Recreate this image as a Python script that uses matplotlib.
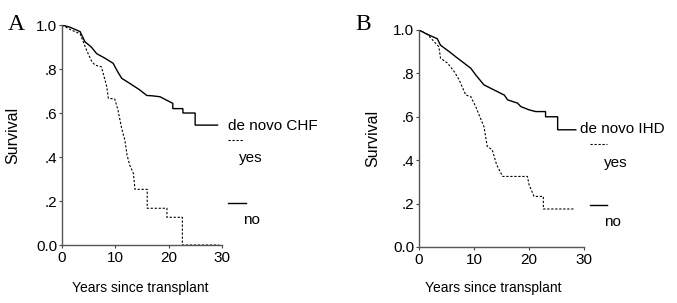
#! /usr/bin/env python
import numpy as np
import matplotlib as mpl
mpl.use("Agg")
import matplotlib.pyplot as plt
from matplotlib.lines import Line2D

plt.rcParams['font.family'] = ['Liberation Sans', 'DejaVu Sans']

#~~~~~~~~ data ~~~~~~~~
# panel A : de novo CHF
a_no_t = [0, 1.5, 3.4, 4.3, 5.5, 6.5, 8.0, 9.6, 10.4, 11.2, 12.7, 14.6, 15.9, 17.0, 18.4,
          19.5, 20.8, 20.8, 22.7, 22.7, 25.0, 25.0, 29.2]
a_no_s = [1.0, 0.99, 0.97, 0.924, 0.9, 0.87, 0.85, 0.826, 0.79, 0.758, 0.735, 0.705, 0.68,
          0.678, 0.674, 0.66, 0.644, 0.62, 0.62, 0.6, 0.6, 0.545, 0.545]
a_yes_t = [0, 1.5, 3.4, 4.6, 5.6, 6.2, 7.4, 8.4, 8.7, 9.9, 10.5, 11.2, 11.8, 12.2, 12.7, 13.4,
           13.7, 16.0, 16.0, 19.7, 19.7, 22.6, 22.6, 29.5]
a_yes_s = [1.0, 0.98, 0.96, 0.886, 0.833, 0.818, 0.81, 0.72, 0.667, 0.664, 0.614, 0.53, 0.477,
           0.41, 0.364, 0.326, 0.253, 0.253, 0.167, 0.167, 0.126, 0.126, 0.0, 0.0]

# panel B : de novo IHD
b_no_t = [0, 1.5, 3.3, 3.9, 5.5, 7.0, 9.4, 10.3, 11.8, 13.6, 15.5, 16.1, 17.9, 18.5, 20.0,
          21.2, 23.0, 23.0, 25.2, 25.2, 28.5]
b_no_s = [1.0, 0.98, 0.96, 0.93, 0.9, 0.87, 0.824, 0.793, 0.747, 0.724, 0.70, 0.678, 0.663,
          0.647, 0.632, 0.624, 0.624, 0.60, 0.60, 0.54, 0.54]
b_yes_t = [0, 1.5, 3.6, 3.9, 5.2, 6.4, 7.3, 8.5, 9.4, 10.3, 10.9, 11.8, 12.4, 13.3, 14.1,
           15.2, 19.7, 20.0, 20.9, 22.6, 22.6, 28.2]
b_yes_s = [1.0, 0.98, 0.923, 0.87, 0.847, 0.808, 0.77, 0.70, 0.693, 0.647, 0.609, 0.555,
           0.463, 0.448, 0.379, 0.325, 0.325, 0.287, 0.233, 0.233, 0.175, 0.175]

x_ticks = [0, 10, 20, 30]
y_ticks = [0.0, 0.2, 0.4, 0.6, 0.8, 1.0]
y_ticklabels = ['0.0', '.2', '.4', '.6', '.8', '1.0']
#~~~~~~~~~~~~~~~~~~~~~~~~~~~~~~~~~~~~~~~~~~~

dots = (0, (2.0, 1.6))

fig = plt.figure(figsize=(6.77, 3.03), dpi=100)
axA = fig.add_axes([0.0916, 0.1914, 0.236, 0.726])
axB = fig.add_axes([0.619, 0.185, 0.2437, 0.716])

panels = [
    (axA, a_no_t, a_no_s, a_yes_t, a_yes_s, 'de novo CHF', 'A',
     dict(lab=(1.0375, 0.541), ys=(1.0375, 1.13, 0.477), yt=(1.11, 0.395),
          ns=(1.0375, 1.15, 0.19), nt=(1.13, 0.114), yl=-0.2625, xl=(0.49, -0.164),
          letter=(0.012, 0.92))),
    (axB, b_no_t, b_no_s, b_yes_t, b_yes_s, 'de novo IHD', 'B',
     dict(lab=(0.976, 0.544), ys=(1.036, 1.139, 0.475), yt=(1.12, 0.387),
          ns=(1.036, 1.139, 0.194), nt=(1.12, 0.115), yl=-0.236, xl=(0.45, -0.157),
          letter=(0.525, 0.92))),
]

for ax, nt, ns, yt, ys, lab, letter, p in panels:
    ax.plot(nt, ns, color='black', lw=1.0, solid_joinstyle='miter')
    ax.plot(yt, ys, color='black', lw=0.8, linestyle=dots)
    ax.set_xlim(0, 30)
    ax.set_ylim(0, 1.0)
    ax.set_xticks(x_ticks)
    ax.set_yticks(y_ticks)
    ax.set_yticklabels(y_ticklabels)
    ax.tick_params(labelsize=11, length=2, width=0.8, pad=1.5, color='#444444')
    ax.tick_params(axis='x', pad=2.5)
    for s in ['top', 'right']:
        ax.spines[s].set_visible(False)
    for s in ['left', 'bottom']:
        ax.spines[s].set_color('#555555')
        ax.spines[s].set_linewidth(1.0)
    ax.set_ylabel('Survival', fontsize=11.5)
    ax.yaxis.set_label_coords(p['yl'], 0.5)
    ax.set_xlabel('Years since transplant', fontsize=10)
    ax.xaxis.set_label_coords(*p['xl'])

    # legend drawn by hand, as in the original
    ax.text(p['lab'][0], p['lab'][1], lab, transform=ax.transAxes, fontsize=11,
            va='center', ha='left', clip_on=False)
    ax.add_line(Line2D([p['ys'][0], p['ys'][1]], [p['ys'][2], p['ys'][2]], transform=ax.transAxes,
                       color='black', lw=0.8, linestyle=dots, clip_on=False))
    ax.text(p['yt'][0], p['yt'][1], 'yes', transform=ax.transAxes, fontsize=11,
            va='center', ha='left', clip_on=False)
    ax.add_line(Line2D([p['ns'][0], p['ns'][1]], [p['ns'][2], p['ns'][2]], transform=ax.transAxes,
                       color='black', lw=1.0, clip_on=False))
    ax.text(p['nt'][0], p['nt'][1], 'no', transform=ax.transAxes, fontsize=11,
            va='center', ha='left', clip_on=False)

    fig.text(p['letter'][0], p['letter'][1], letter, fontsize=17,
             family=['Liberation Serif', 'DejaVu Serif'], va='center', ha='left')

fig.savefig('out.png', dpi=100)
